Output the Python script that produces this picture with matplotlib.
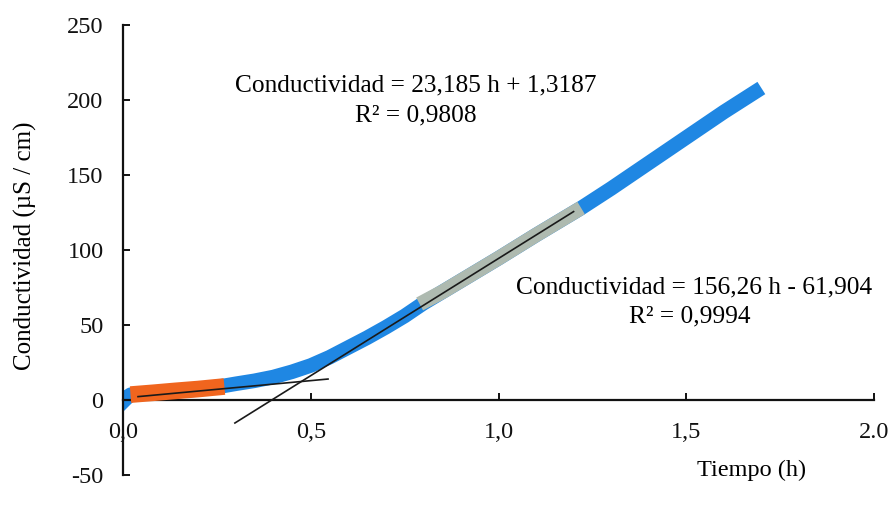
import matplotlib
matplotlib.use("Agg")
import matplotlib.pyplot as plt
import numpy as np

plt.rcParams['font.family'] = ['Liberation Serif', 'DejaVu Serif']
plt.rcParams['axes.unicode_minus'] = False

# Conductivity measured over time
tiempo = [0.00, 0.02, 0.10, 0.20, 0.27, 0.30, 0.35, 0.40, 0.45, 0.50, 0.55,
          0.60, 0.65, 0.70, 0.75, 0.80, 0.85, 0.90, 1.00, 1.10, 1.22, 1.30,
          1.40, 1.50, 1.60, 1.70]
conductividad = [0.0, 3.5, 5.0, 7.0, 9.5, 10.8, 12.8, 15.3, 18.8, 23.0, 28.5,
                 35.0, 41.5, 48.5, 56.0, 64.5, 72.0, 79.5, 94.5, 110.0, 128.0,
                 141.0, 158.0, 175.0, 192.0, 208.0]

# Initial segment used for the first fit
tiempo_ini = [0.02, 0.08, 0.14, 0.20, 0.27]
cond_ini = [3.6, 4.8, 6.1, 7.3, 9.0]

# Linear segment used for the second fit
tiempo_lin = [0.79, 0.85, 0.90, 1.00, 1.10, 1.22]
cond_lin = [64.0, 72.0, 79.5, 94.5, 110.0, 128.0]

# Trend lines: slope, intercept, x range
fit1_m, fit1_b, fit1_x = 23.185, 1.3187, (0.04, 0.546)
fit2_m, fit2_b, fit2_x = 156.26, -61.904, (0.298, 1.20)
fit1_r2, fit2_r2 = "0,9808", "0,9994"

x_ticks = [0.0, 0.5, 1.0, 1.5, 2.0]
x_labels = ["0,0", "0,5", "1,0", "1,5", "2.0"]
y_ticks = [-50, 0, 50, 100, 150, 200, 250]

fig = plt.figure(figsize=(8.96, 5.17), dpi=100)
ax = fig.add_axes([123 / 896, 42 / 517, 751 / 896, 450 / 517])

ax.plot(tiempo, conductividad, color='#1f87e3', lw=10.5, solid_capstyle='butt',
        solid_joinstyle='round', marker='D', markevery=[0], markersize=10, zorder=2)
ax.plot(tiempo_ini, cond_ini, color='#f0651e', lw=12, solid_capstyle='butt', zorder=3)
ax.plot(tiempo_lin, cond_lin, color='#aebab0', lw=10.5, solid_capstyle='butt',
        solid_joinstyle='round', zorder=3)

for m, b, (x0, x1) in [(fit1_m, fit1_b, fit1_x), (fit2_m, fit2_b, fit2_x)]:
    xs = np.array([x0, x1])
    ax.plot(xs, m * xs + b, color='#1a1a1a', lw=1.2, zorder=4)

ax.set_xlim(0, 2.0)
ax.set_ylim(-50, 250)
ax.spines['left'].set_position(('data', 0))
ax.spines['bottom'].set_position(('data', 0))
ax.spines['top'].set_visible(False)
ax.spines['right'].set_visible(False)
for s in ('left', 'bottom'):
    ax.spines[s].set_linewidth(1.6)
    ax.spines[s].set_color('#111111')
ax.spines['left'].set_bounds(-50, 250)

ax.set_xticks(x_ticks)
ax.set_xticklabels(x_labels)
ax.set_yticks(y_ticks)
ax.tick_params(axis='both', direction='in', length=5, width=1.4, colors='#111111',
               labelsize=17.5)
ax.tick_params(axis='x', pad=16)
ax.tick_params(axis='y', pad=14)

fig.text(25 / 896, 1 - 246 / 517, "Conductividad (µS / cm)", rotation=90,
         ha='center', va='center', fontsize=18)
fig.text(752 / 896, 1 - 470 / 517, "Tiempo (h)", ha='center', va='center', fontsize=17.5)

fig.text(416 / 896, 1 - 85 / 517,
         f"Conductividad = {fit1_m:.3f} h + {fit1_b:.4f}".replace('.', ','),
         ha='center', va='center', fontsize=18.3)
fig.text(416 / 896, 1 - 115 / 517, f"R² = {fit1_r2}", ha='center', va='center', fontsize=18.3)
fig.text(694 / 896, 1 - 287 / 517,
         f"Conductividad = {fit2_m:.2f} h - {abs(fit2_b):.3f}".replace('.', ','),
         ha='center', va='center', fontsize=18.3)
fig.text(690 / 896, 1 - 316 / 517, f"R² = {fit2_r2}", ha='center', va='center', fontsize=18.3)

fig.savefig("out.png", dpi=100)
